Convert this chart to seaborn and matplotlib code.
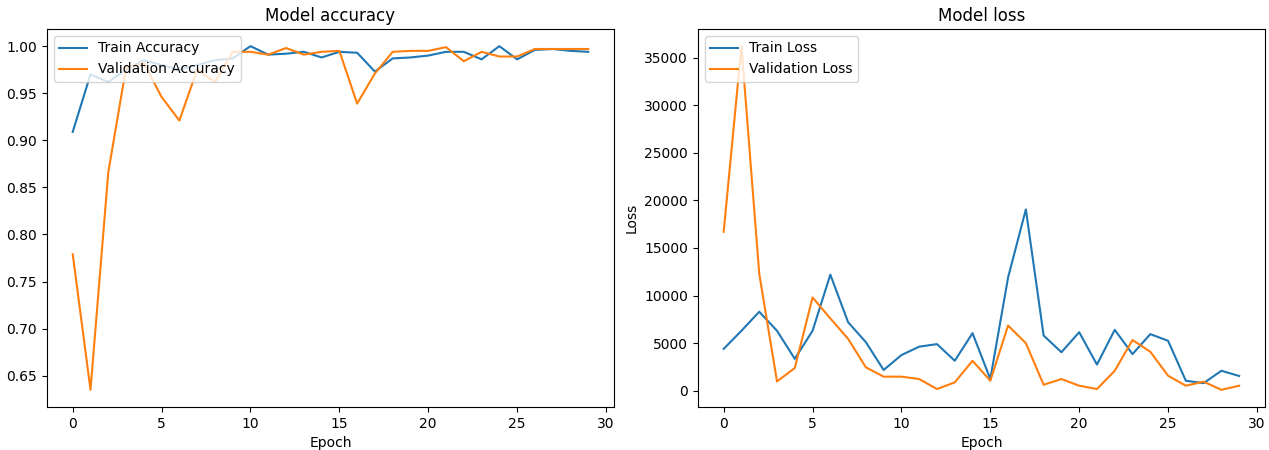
import pandas as pd
import numpy as np
import matplotlib
matplotlib.use("Agg")
import matplotlib.pyplot as plt
import seaborn as sns

epochs = list(range(30))

train_acc = [0.909, 0.970, 0.962, 0.975, 0.985, 0.980, 0.975, 0.980, 0.985, 0.987,
             1.000, 0.991, 0.992, 0.994, 0.988, 0.994, 0.993, 0.973, 0.987, 0.988,
             0.990, 0.994, 0.994, 0.986, 1.000, 0.986, 0.996, 0.997, 0.995, 0.994]
val_acc = [0.779, 0.635, 0.866, 0.977, 0.982, 0.946, 0.921, 0.975, 0.962, 0.994,
           0.994, 0.991, 0.998, 0.991, 0.994, 0.995, 0.939, 0.971, 0.994, 0.995,
           0.995, 0.999, 0.984, 0.994, 0.989, 0.989, 0.997, 0.997, 0.997, 0.997]

train_loss = [4400, 6300, 8300, 6300, 3350, 6300, 12200, 7200, 5100, 2180,
              3750, 4630, 4900, 3150, 6050, 1230, 11900, 19050, 5800, 4050,
              6150, 2750, 6400, 3850, 5950, 5250, 1050, 800, 2100, 1550]
val_loss = [16700, 36200, 12300, 980, 2390, 9800, 7600, 5450, 2460, 1480,
            1480, 1230, 180, 880, 3150, 1050, 6850, 5000, 630, 1230,
            530, 180, 2100, 5330, 4100, 1580, 530, 950, 100, 530]

acc_df = pd.DataFrame({"Epoch": epochs * 2,
                       "value": train_acc + val_acc,
                       "series": ["Train Accuracy"] * 30 + ["Validation Accuracy"] * 30})
loss_df = pd.DataFrame({"Epoch": epochs * 2,
                        "value": train_loss + val_loss,
                        "series": ["Train Loss"] * 30 + ["Validation Loss"] * 30})

colors = ["#1f77b4", "#ff7f0e"]

fig, axes = plt.subplots(1, 2, figsize=(12.69, 4.5), dpi=100)
plt.subplots_adjust(left=0.037, right=0.9968, bottom=0.0956, top=0.9356, wspace=0.148)

# accuracy
ax = axes[0]
sns.lineplot(data=acc_df, x="Epoch", y="value", hue="series", palette=colors, ax=ax)
ax.set_title("Model accuracy")
ax.set_xlabel("Epoch")
ax.set_ylabel("")
ax.legend(loc="upper left")

# loss
ax = axes[1]
sns.lineplot(data=loss_df, x="Epoch", y="value", hue="series", palette=colors, ax=ax)
ax.set_title("Model loss")
ax.set_xlabel("Epoch")
ax.set_ylabel("Loss")
ax.legend(loc="upper left")

for ax in axes:
    ax.set_xticks([0, 5, 10, 15, 20, 25, 30])

plt.savefig("out.png", dpi=100)
